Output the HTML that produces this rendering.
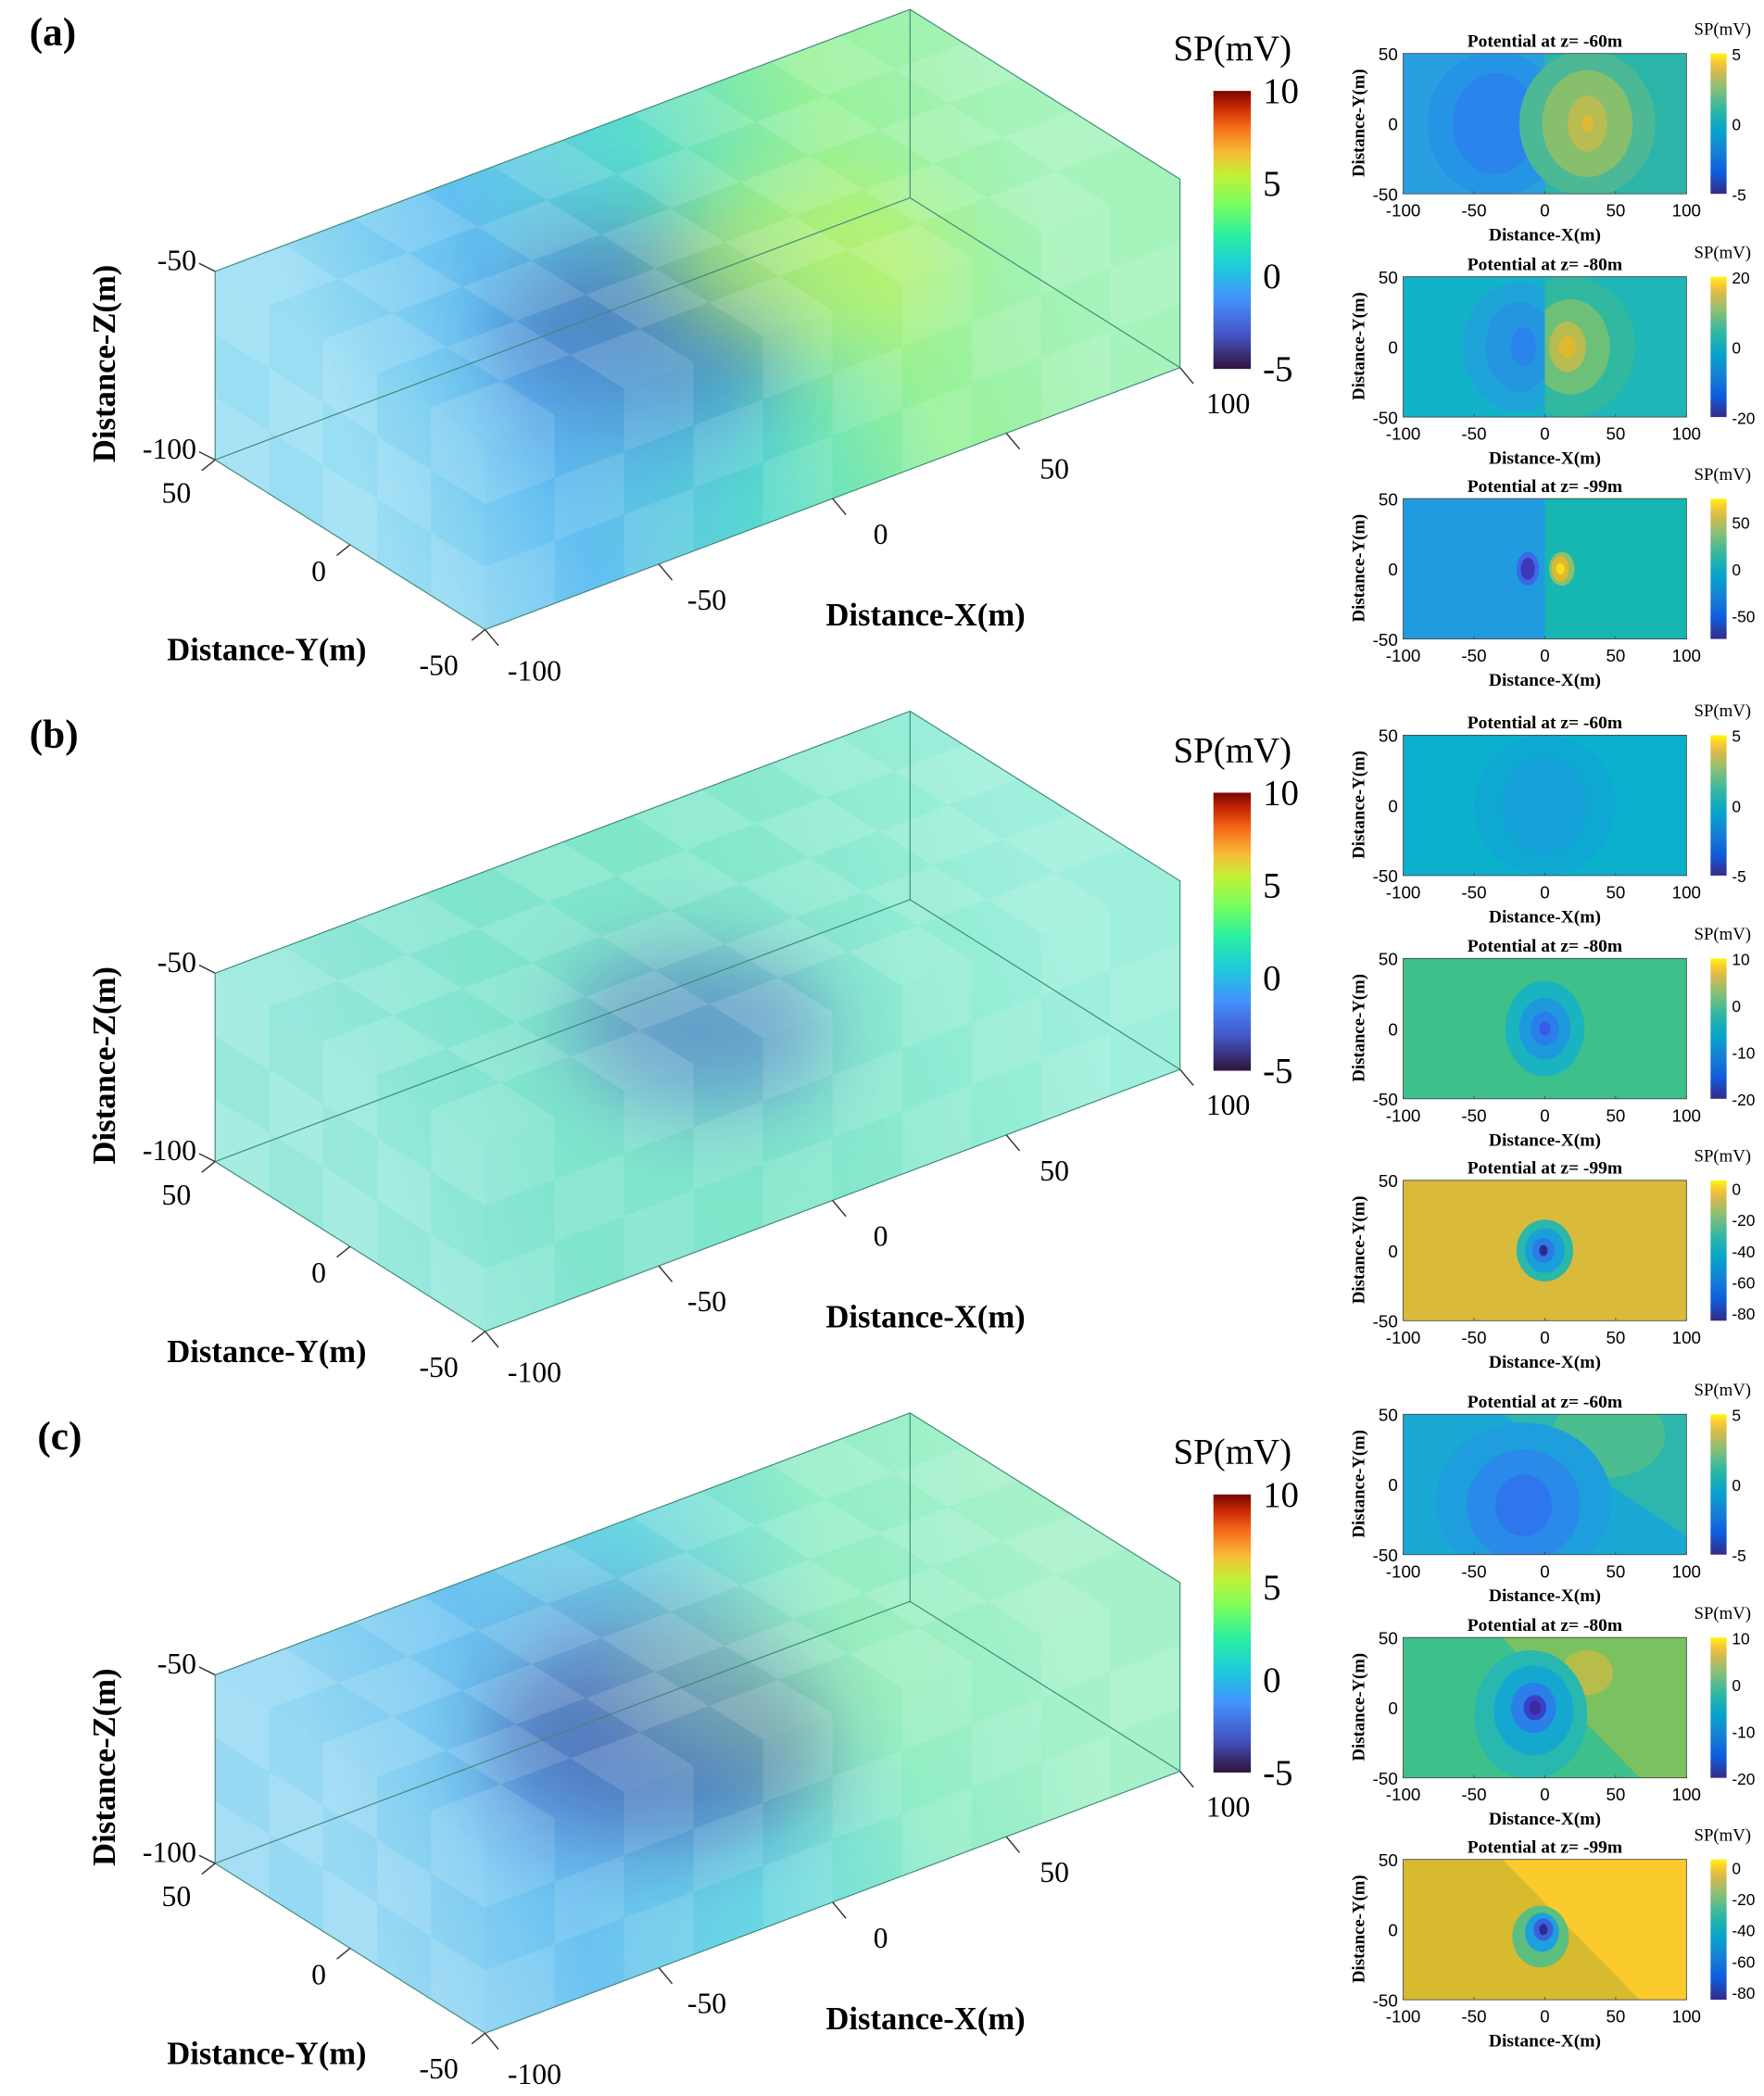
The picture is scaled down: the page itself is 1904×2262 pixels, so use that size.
<!DOCTYPE html>
<html><head><meta charset="utf-8"><style>
html,body{margin:0;padding:0;background:#fff;}
svg{display:block;}
.serif{font-family:"Liberation Serif",serif;}
.sans{font-family:"Liberation Sans",sans-serif;}
</style></head><body>
<svg id="fig" width="1904" height="2262" viewBox="0 0 1320 1568" preserveAspectRatio="none" xmlns="http://www.w3.org/2000/svg">
<defs>
<linearGradient id="turbo" x1="0" y1="1" x2="0" y2="0">
<stop offset="0" stop-color="#30123b"/><stop offset="0.12" stop-color="#4454c4"/><stop offset="0.25" stop-color="#4490fe"/><stop offset="0.36" stop-color="#1fc8de"/><stop offset="0.48" stop-color="#29efa2"/><stop offset="0.6" stop-color="#7dfe5a"/><stop offset="0.7" stop-color="#c3f034"/><stop offset="0.78" stop-color="#f9ba38"/><stop offset="0.87" stop-color="#f66b19"/><stop offset="0.94" stop-color="#ca2a04"/><stop offset="1" stop-color="#7a0403"/>
</linearGradient>
<linearGradient id="parula" x1="0" y1="1" x2="0" y2="0">
<stop offset="0" stop-color="#352a87"/><stop offset="0.15" stop-color="#0f5cdd"/><stop offset="0.3" stop-color="#1481d6"/><stop offset="0.45" stop-color="#06a4ca"/><stop offset="0.6" stop-color="#2eb7a4"/><stop offset="0.75" stop-color="#87bf77"/><stop offset="0.88" stop-color="#dbba4a"/><stop offset="0.95" stop-color="#fcce2e"/><stop offset="1" stop-color="#f9fb0e"/>
</linearGradient>
<filter id="blur" x="-50%" y="-50%" width="200%" height="200%"><feGaussianBlur stdDeviation="28"/></filter>
</defs>
</svg>
<script>
// ---------- data ----------
const panelLabels = ['(a)','(b)','(c)'];
const panelOffsets = [0, 525, 1050];
const mapOffsets = [0, 510, 1018];
const cbTicks3D = [10, 5, 0, -5];
const xTicks3D = [-100, -50, 0, 50, 100];
const yTicks3D = [50, 0, -50];
const zTicks3D = [-50, -100];
const sliceTitles = ['Potential at z= -60m','Potential at z= -80m','Potential at z= -99m'];
const mapXTicks = [-100, -50, 0, 50, 100];
const mapYTicks = [50, 0, -50];
const mapCbTicks = [
  [[5,0,-5],[20,0,-20],[50,0,-50]],
  [[5,0,-5],[10,0,-10,-20],[0,-20,-40,-60,-80]],
  [[5,0,-5],[10,0,-10,-20],[0,-20,-40,-60,-80]]
];
const mapCbLims = [
  [[-5,5],[-20,20],[-75,75]],
  [[-5,5],[-20,10],[-85,5]],
  [[-5,5],[-20,10],[-85,5]]
];
const mapBg = [
  [['#2a9fe0','#2bb5a8',[0,0]],['#12b2c8','#1eb6b6',[0,0]],['#209be0','#15b7b0',[0,0]]],
  [['#0ab0cc','#0ab0cc',[0,0]],['#3ec08a','#3ec08a',[0,0]],['#d9ba3a','#d9ba3a',[0,0]]],
  [['#1aa8d4','#2cb6ae',[-30,120]],['#3ec08a','#7cc160',[-30,67]],['#d8ba2f','#fbcb2e',[-30,67]]]
];
const mapBlobs = [
  [
    [[-35,0,48,52,'#2694e4',0],[-35,0,30,36,'#2a84ec',0],[30,0,48,52,'#4cb896',0],[30,0,32,38,'#88bf6c',0],[30,0,14,20,'#b8bc52',0],[30,0,4,6,'#e0b838',0]],
    [[-18,0,40,46,'#1ea4d8',-1],[-18,0,24,32,'#2496e0',-1],[-15,0,9,14,'#2a84ec',-1],[18,0,46,50,'#30b8a0',1],[18,0,28,34,'#6cc078',1],[16,0,13,18,'#b8bc50',1],[16,0,6,8,'#e0b830',1]],
    [[-12,0,8,12,'#3a6ae8',0],[-12,0,5,8,'#3c3ab8',0],[12,0,9,12,'#8fc068',0],[11,0,6,9,'#e0b830',0],[11,0,3,4,'#f5e020',0]]
  ],
  [
    [[0,0,50,50,'#0fa8d2',0],[0,0,30,35,'#14a2d8',0]],
    [[0,0,28,34,'#1ab4c0',0],[0,0,18,22,'#1e98dc',0],[0,0,10,12,'#2a7ee8',0],[0,0,4,5,'#3a5ae8',0]],
    [[0,0,20,22,'#2ab8a8',0],[0,0,14,16,'#1aa0d8',0],[-1,0,8,9,'#2a7ce8',0],[-1,0,3,4,'#302a90',0]]
  ],
  [
    [[45,35,40,30,'#4cbd90',0],[-15,-12,62,56,'#1e9edc',0],[-15,-15,40,40,'#2a8aea',0],[-15,-15,20,22,'#2d76ee',0]],
    [[30,25,18,16,'#b8bc48',0],[-10,-5,40,46,'#28b8b0',0],[-8,-2,28,32,'#14a8d0',0],[-8,0,16,18,'#2a80e8',0],[-7,0,8,9,'#3a40c8',0],[-7,0,4,5,'#3a2aa0',0]],
    [[-3,-5,20,22,'#5cbf80',0],[-2,-2,12,14,'#1ea0dc',0],[-1,0,7,8,'#3a60e0',0],[-1,0,3,4,'#302a90',0]]
  ]
];
const volGrad = [
  ['#8ddaf2','#52b8f0','#46d8c8','#8cf08c','#9cf2b4'],
  ['#8ae6d8','#72e2c8','#72e4c4','#80e8cc','#94eed8'],
  ['#8ad4f2','#5cbcf0','#5ad4e0','#86ecc0','#9cf0c4']
];
const volBlobs = [
  [[0.42,0.5,80,'#2a40a8',0.5],[0.5,0.75,60,'#4058a8',0.3],[0.68,0.55,80,'#c8f040',0.55],[0.3,0.2,70,'#3a90e8',0.3]],
  [[0.5,0.5,70,'#3a50b8',0.5],[0.45,0.3,60,'#4a80e0',0.25]],
  [[0.45,0.5,90,'#2a2070',0.55],[0.35,0.35,80,'#3a70e0',0.35],[0.55,0.85,70,'#6070d0',0.35],[0.65,0.55,90,'#a8f0a0',0.3]]
];

// ---------- helpers ----------
const NS='http://www.w3.org/2000/svg';
const svg=document.getElementById('fig');
const defs=svg.querySelector('defs');
function mk(tag, attrs, parent){const e=document.createElementNS(NS,tag);for(const k in attrs)e.setAttribute(k,attrs[k]);(parent||svg).appendChild(e);return e;}
function txt(s, x, y, cls, size, anchor, parent, extra){const e=mk('text',Object.assign({x:x,y:y,'class':cls,'font-size':size,'text-anchor':anchor||'start'},extra||{}),parent);e.textContent=s;return e;}
const X=[520,-196], Y=[-202,-127], Z=[0,-141];
function P(oy,fx,fy,fz){return [363+X[0]*fx+Y[0]*fy+Z[0]*fz, 471+oy+X[1]*fx+Y[1]*fy+Z[1]*fz];}
function pts(a){return a.map(p=>p[0].toFixed(1)+','+p[1].toFixed(1)).join(' ');}

panelOffsets.forEach((oy, pi)=>{
  const g=mk('g',{});
  
  
  const lab=txt(panelLabels[pi], pi==2?28:22, 34+oy, 'serif', 30, 'start', g, {'font-weight':'bold'});
  
  

  const vol=mk('g',{},g);
  
  
  const sil=[P(oy,0,1,0),P(oy,0,1,1),P(oy,1,1,1),P(oy,1,0,1),P(oy,1,0,0),P(oy,0,0,0)];
  const cid='clip'+pi, gid='vg'+pi;
  const cp=mk('clipPath',{id:cid},defs);
  mk('polygon',{points:pts(sil)},cp);
  const a=P(oy,0,0.5,0.5), b=P(oy,1,0.5,0.5);
  const lg=mk('linearGradient',{id:gid,gradientUnits:'userSpaceOnUse',x1:a[0],y1:a[1],x2:b[0],y2:b[1]},defs);
  volGrad[pi].forEach((c,i)=>mk('stop',{offset:i/(volGrad[pi].length-1),'stop-color':c},lg));
  const inner=mk('g',{'clip-path':'url(#'+cid+')'},vol);
  mk('polygon',{points:pts(sil),fill:'url(#'+gid+')'},inner);
  volBlobs[pi].forEach(bl=>{
    const c=P(oy,bl[0],bl[1],0.5);
    const e=mk('ellipse',{cx:c[0],cy:c[1],rx:bl[2]*1.4,ry:bl[2]*0.8,fill:bl[3],opacity:bl[4],filter:'url(#blur)'},inner);
    
    
  });
  // translucent cell pattern (lighter cells near edges)
  const cells=mk('g',{fill:'#ffffff'},inner);
  for(let i=0;i<10;i++)for(let j=0;j<5;j++){
    const op=((i+j)%2?0.10:0.22);
    mk('polygon',{points:pts([P(oy,i/10,j/5,1),P(oy,(i+1)/10,j/5,1),P(oy,(i+1)/10,(j+1)/5,1),P(oy,i/10,(j+1)/5,1)]),'fill-opacity':op},cells);
  }
  for(let i=0;i<10;i++)for(let k=0;k<3;k++){
    const op=((i+k)%2?0.10:0.2);
    mk('polygon',{points:pts([P(oy,i/10,0,k/3),P(oy,(i+1)/10,0,k/3),P(oy,(i+1)/10,0,(k+1)/3),P(oy,i/10,0,(k+1)/3)]),'fill-opacity':op},cells);
  }
  for(let j=0;j<5;j++)for(let k=0;k<3;k++){
    const op=((j+k)%2?0.12:0.24);
    mk('polygon',{points:pts([P(oy,0,j/5,k/3),P(oy,0,(j+1)/5,k/3),P(oy,0,(j+1)/5,(k+1)/3),P(oy,0,j/5,(k+1)/3)]),'fill-opacity':op},cells);
  }
  const ed=mk('g',{stroke:'#3c8a78','stroke-width':0.8,fill:'none'},vol);
  mk('polygon',{points:pts(sil)},ed);
  mk('polyline',{points:pts([P(oy,0,1,0),P(oy,1,1,0),P(oy,1,0,0)])},ed);
  mk('line',{x1:P(oy,1,1,0)[0],y1:P(oy,1,1,0)[1],x2:P(oy,1,1,1)[0],y2:P(oy,1,1,1)[1]},ed);
  const tk=mk('g',{stroke:'#333','stroke-width':1},g);
  xTicks3D.forEach(v=>{const f=(v+100)/200,p=P(oy,f,0,0);
    mk('line',{x1:p[0],y1:p[1],x2:p[0]+10,y2:p[1]+12},tk);
    const t=txt(String(v),p[0]+(v==-100?37:36),p[1]+(v==-100?38:34),'serif',22,'middle',g);
    
    });
  yTicks3D.forEach(v=>{const f=(v+50)/100,p=P(oy,0,f,0);
    mk('line',{x1:p[0],y1:p[1],x2:p[0]-10,y2:p[1]+8},tk);
    const t=txt(String(v),v==-50?p[0]-20:p[0]-18,p[1]+(v==50?32:v==0?27:34),'serif',22,'end',g);
    
    });
  zTicks3D.forEach(v=>{const f=(v+100)/50,p=P(oy,0,1,f);
    mk('line',{x1:p[0],y1:p[1],x2:p[0]-12,y2:p[1]-6},tk);
    const t=txt(String(v),p[0]-14,p[1]-1,'serif',22,'end',g);
    
    });
  let t;
  t=txt('Distance-Z(m)',0,0,'serif',24,'middle',g,{'font-weight':'bold',transform:'translate(86,'+(272+oy)+') rotate(-90)'});
  
  t=txt('Distance-Y(m)',125,494+oy,'serif',24,'start',g,{'font-weight':'bold'});
  
  t=txt('Distance-X(m)',618,468+oy,'serif',24,'start',g,{'font-weight':'bold'});
  
  const cb=mk('rect',{x:908,y:68+oy,width:28,height:208,fill:'url(#turbo)'},g);
  
  t=txt('SP(mV)',878,45+oy,'serif',27,'start',g);
  
  cbTicks3D.forEach(v=>{const y=276+oy-(v+5)/15*208;
    const tt=txt(String(v),945,y+9,'serif',27,'start',g);
    });

  const mapTops=[40,207,373];
  mapTops.forEach((mt, si)=>{
    const top=mt+mapOffsets[pi];
    const mg=mk('g',{},g);
    
    
    const L=1050,R=1262,B=top+105;
    const sx=v=>L+(v+100)/200*(R-L), sy=v=>B-(v+50)/100*(B-top);
    const mcid='mc'+pi+si;
    const mcp=mk('clipPath',{id:mcid},defs);
    mk('rect',{x:L,y:top,width:R-L,height:B-top},mcp);
    const bg=mapBg[pi][si];
    const mi=mk('g',{'clip-path':'url(#'+mcid+')'},mg);
    mk('rect',{x:L,y:top,width:R-L,height:B-top,fill:bg[0]},mi);
    const rp=[[sx(bg[2][0]),top],[R,top],[R,B],[sx(bg[2][1]),B]];
    mk('polygon',{points:pts(rp),fill:bg[1]},mi);
    const lcid='lc'+pi+si, rcid='rc'+pi+si;
    const lcp=mk('clipPath',{id:lcid},defs);
    mk('rect',{x:L,y:top,width:sx(0)-L,height:B-top},lcp);
    const rcp=mk('clipPath',{id:rcid},defs);
    mk('rect',{x:sx(0),y:top,width:R-sx(0),height:B-top},rcp);
    mapBlobs[pi][si].forEach(bl=>{
      const attrs={cx:sx(bl[0]),cy:sy(bl[1]),rx:bl[2]*(R-L)/200,ry:bl[3]*(B-top)/100,fill:bl[4]};
      if(bl[5]==-1)attrs['clip-path']='url(#'+lcid+')';
      if(bl[5]==1)attrs['clip-path']='url(#'+rcid+')';
      const e=mk('ellipse',attrs,mi);
      
      
    });
    mk('rect',{x:L,y:top,width:R-L,height:B-top,fill:'none',stroke:'#444','stroke-width':0.6},mg);
    let tt=txt(sliceTitles[si],1156,top-5,'serif',13.5,'middle',mg,{'font-weight':'bold'});
    
    mapXTicks.forEach(v=>{const x=sx(v);
      mk('line',{x1:x,y1:B,x2:x,y2:B-2,stroke:'#444','stroke-width':0.6},mg);
      const q=txt(String(v),x,B+17,'sans',13,'middle',mg);
      });
    mapYTicks.forEach(v=>{const y=sy(v);
      const q=txt(String(v),L-4,y+5,'sans',13,'end',mg);
      });
    tt=txt('Distance-X(m)',1156,B+35,'serif',13.5,'middle',mg,{'font-weight':'bold'});
    
    tt=txt('Distance-Y(m)',0,0,'serif',13,'middle',mg,{'font-weight':'bold',transform:'translate('+1021+','+(top+52)+') rotate(-90)'});
    
    const c=mk('rect',{x:1280,y:top,width:12,height:105,fill:'url(#parula)'},mg);
    
    tt=txt('SP(mV)',1289,top-14,'serif',13,'middle',mg);
    
    const lim=mapCbLims[pi][si];
    mapCbTicks[pi][si].forEach(v=>{const y=B-(v-lim[0])/(lim[1]-lim[0])*105;
      const q=txt(String(v),1296,y+5,'sans',12,'start',mg);
      });
  });
});
</script>
</body></html>
